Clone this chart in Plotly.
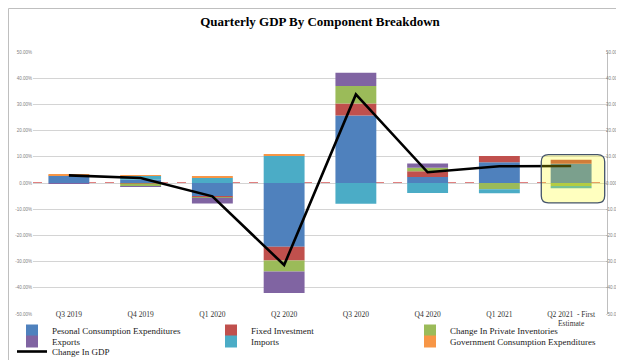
import plotly.graph_objects as go

categories = ["Q3 2019", "Q4 2019", "Q1 2020", "Q2 2020", "Q3 2020", "Q4 2020", "Q1 2021",
              "Q2 2021  - First Estimate"]
tick_labels = ["Q3 2019", "Q4 2019", "Q1 2020", "Q2 2020", "Q3 2020", "Q4 2020", "Q1 2021",
               "Q2 2021  - First<br>Estimate"]

pce = [2.9, 1.2, -5.0, -24.3, 25.8, 2.3, 7.9, 7.3]
fixed_investment = [0.0, -0.2, -0.4, -5.3, 4.5, 2.2, 2.4, 1.6]
inventories = [0.0, -1.1, -0.2, -4.2, 6.7, 1.3, -2.4, -1.1]
exports = [-0.3, -0.2, -2.2, -8.2, 5.1, 1.6, 0.0, 0.0]
imports = [0.0, 1.5, 2.0, 10.4, -7.9, -3.8, -1.5, -0.9]
government = [0.5, 0.3, 0.6, 0.4, 0.0, 0.0, 0.0, 0.0]
gdp_change = [2.9, 1.9, -5.1, -31.3, 33.8, 4.1, 6.4, 6.5]

y_ticks = [50, 40, 30, 20, 10, 0, -10, -20, -30, -40, -50]
y_labels_left = [f"{v:.2f}%" for v in y_ticks]
y_labels_right = [f"{v:.3f}%" for v in y_ticks]

x = list(range(len(categories)))

W, H = 624, 360
ml, mr, mt, mb = 25, 25, 44, 54
pw, ph = W - ml - mr, H - mt - mb

def py(pix):
    return (H - mb - pix) / ph

def px(pix):
    return (pix - ml) / pw

series = [
    ("Pesonal Consumption Expenditures", pce, "#4F81BD"),
    ("Fixed Investment", fixed_investment, "#C0504D"),
    ("Change In Private Inventories", inventories, "#9BBB59"),
    ("Exports", exports, "#8064A2"),
    ("Imports", imports, "#4BACC6"),
    ("Government Consumption Expenditures", government, "#F79646"),
]
col_x = [4, 203, 402]
row_top = [308, 319, 329]

legend_font = dict(family="Liberation Serif, Times New Roman", size=9, color="#1a1a1a")

def legend_box(i):
    return dict(x=px(col_x[i % 3]), y=py(row_top[i // 3]), xanchor="left", yanchor="top",
                orientation="v", bgcolor="rgba(0,0,0,0)", borderwidth=0, font=legend_font,
                itemclick=False, itemdoubleclick=False, tracegroupgap=0)

fig = go.Figure()
legend_layout = {}
for i, (name, vals, color) in enumerate(series):
    key = "legend" if i == 0 else f"legend{i + 1}"
    legend_layout[key] = legend_box(i)
    fig.add_trace(go.Bar(x=x, y=vals, name=name, marker=dict(color=color, line=dict(width=0)),
                         width=0.57, legend=key, customdata=categories,
                         hovertemplate="%{customdata}: %{y:.1f}%<extra>" + name + "</extra>"))

legend_layout["legend7"] = legend_box(6)
fig.add_trace(go.Scatter(x=x, y=gdp_change, name="Change In GDP", mode="lines",
                         line=dict(color="#000000", width=2.6), legend="legend7", yaxis="y2",
                         customdata=categories,
                         hovertemplate="%{customdata}: %{y:.1f}%<extra>Change In GDP</extra>"))

tick_font = dict(family="Liberation Sans, Arial", size=4.5, color="#7F7F7F")

fig.update_layout(
    width=W, height=H,
    margin=dict(l=ml, r=mr, t=mt, b=mb, autoexpand=False),
    paper_bgcolor="white", plot_bgcolor="white",
    barmode="relative",
    title=dict(text="<b>Quarterly GDP By Component Breakdown</b>", x=0.5, xref="container",
               xanchor="center", y=1 - 13 / H, yanchor="middle",
               font=dict(family="Liberation Serif, Times New Roman", size=13, color="#000")),
    xaxis=dict(range=[-0.5, len(categories) - 0.5], tickmode="array", tickvals=x,
               ticktext=tick_labels, showgrid=False, zeroline=False, showline=False,
               ticklabelstandoff=-6,
               tickfont=dict(family="Liberation Serif, Times New Roman", size=7.5, color="#333")),
    yaxis=dict(range=[-50, 50], tickmode="array", tickvals=y_ticks, ticktext=y_labels_left,
               showgrid=True, gridcolor="#D4D4D4", gridwidth=1,
               zeroline=False, showline=False, tickfont=tick_font),
    yaxis2=dict(range=[-50, 50], overlaying="y", side="right", tickmode="array",
                tickvals=y_ticks, ticktext=y_labels_right, showgrid=False,
                zeroline=False, showline=True, linecolor="#BFBFBF", linewidth=1,
                ticklabelstandoff=-3, tickfont=tick_font),
    showlegend=True,
    **legend_layout,
)

# red dashed zero reference line
fig.add_shape(type="line", xref="paper", x0=0, x1=1, yref="y", y0=0, y1=0,
              line=dict(color="#C00000", width=1, dash="dash"), layer="below")

# highlight box around the latest (first estimate) quarter
last = len(categories) - 1
bx0, bx1 = last - 0.416, last + 0.468
by0, by1 = -7.6, 10.8
rx, ry = 0.1, 2.7
path = (f"M {bx0+rx},{by1} L {bx1-rx},{by1} Q {bx1},{by1} {bx1},{by1-ry} "
        f"L {bx1},{by0+ry} Q {bx1},{by0} {bx1-rx},{by0} L {bx0+rx},{by0} "
        f"Q {bx0},{by0} {bx0},{by0+ry} L {bx0},{by1-ry} Q {bx0},{by1} {bx0+rx},{by1} Z")
fig.add_shape(type="path", path=path, xref="x", yref="y", layer="above",
              fillcolor="rgba(255,255,0,0.25)", line=dict(color="#44546A", width=1.3))

# outer frame
fig.add_shape(type="rect", xref="paper", yref="paper",
              x0=px(0.5), x1=px(W - 0.5), y0=py(H - 0.5), y1=py(0.5),
              line=dict(color="#BFBFBF", width=1), fillcolor="rgba(0,0,0,0)", layer="below")

fig.write_html("out.html")
